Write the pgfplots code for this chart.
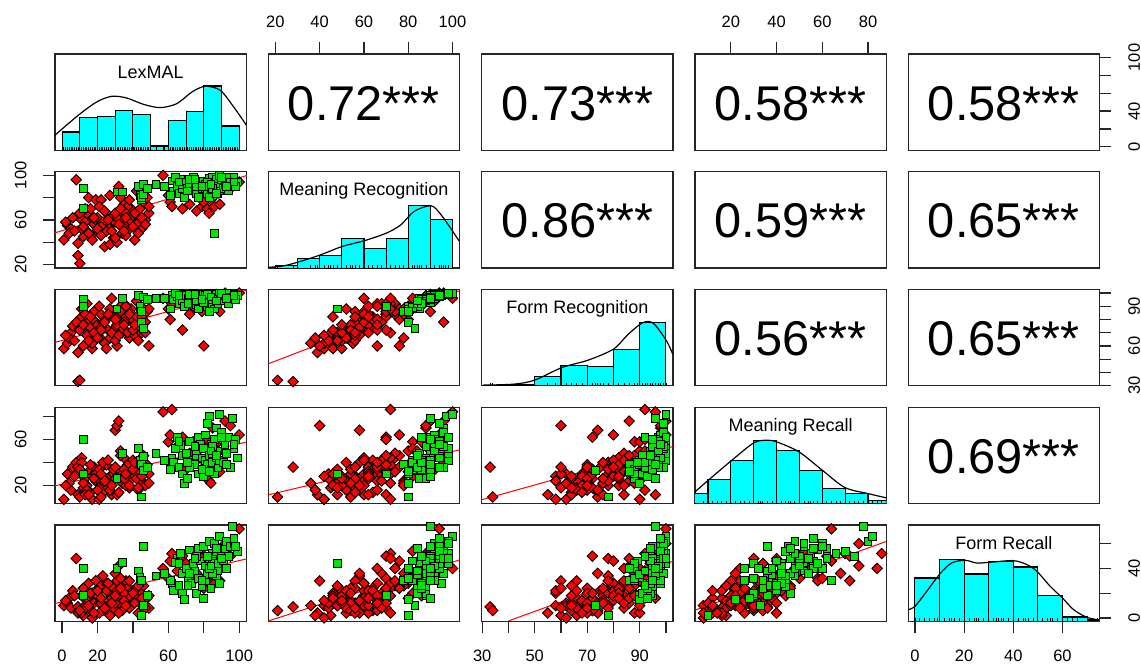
\documentclass[border=0pt]{standalone}
\usepackage{fontspec}
\setmainfont{Liberation Sans}
\usepackage{pgfplots}
\usepackage{pgfplotstable}
\pgfplotsset{compat=1.18}
\definecolor{rfill}{RGB}{255,0,0}
\definecolor{gfill}{RGB}{0,230,0}
\definecolor{hcyan}{RGB}{0,255,255}

\pgfplotstableread{
lex mrec frec mrecall frecall
1 42 58 8 10
3 55 62 30 12
5 52 70 16 8
6 62 75 36 22
8 96 78 40 48
9 39 55 12 4
9 28 33 36 9
10 21 34 10 6
4 48 66 22 16
11 60 82 44 18
12 45 60 18 2
13 58 72 26 10
14 50 68 20 14
15 80 80 32 28
16 64 74 14 6
17 46 58 28 20
18 56 86 36 12
19 78 66 24 30
11 52 88 40 4
14 66 92 16 16
17 42 62 8 0
19 60 78 30 22
13 70 84 12 8
20 62 76 26 18
21 48 70 34 12
22 78 84 20 26
23 56 64 14 6
24 36 62 22 10
25 66 80 38 28
26 54 72 18 14
27 82 88 28 20
28 60 96 12 16
29 44 68 30 8
21 72 90 8 4
23 58 78 40 34
25 50 58 24 22
27 38 66 16 2
29 64 82 34 24
22 54 74 10 12
30 58 74 68 36
31 40 60 72 30
32 90 86 76 42
33 62 84 32 18
34 48 70 22 10
35 74 92 44 26
36 56 78 36 30
37 66 80 28 14
38 52 66 18 8
39 70 88 40 20
30 44 64 26 12
31 62 76 12 22
33 80 90 50 32
34 54 72 30 6
36 46 82 20 18
37 72 70 38 24
38 60 86 24 16
35 68 78 34 20
40 64 80 42 22
41 42 68 28 14
42 86 94 36 18
43 58 74 16 4
44 70 84 32 12
45 52 70 24 20
46 76 88 46 26
47 60 78 20 10
48 80 86 38 16
49 66 60 30 8
42 56 82 26 24
57 100 96 84 40
60 82 88 58 32
61 76 80 64 46
62 72 92 86 52
65 88 96 54 38
68 70 72 62 50
70 92 94 34 44
72 74 84 48 40
74 86 90 58 30
76 68 92 42 36
78 82 96 52 54
79 72 86 30 48
80 76 60 36 24
81 86 94 40 46
82 70 92 60 32
83 66 90 24 40
84 78 88 22 36
85 88 98 70 52
86 72 96 44 28
87 90 99 56 44
88 84 92 50 38
89 74 86 32 30
92 96 100 76 60
95 88 98 72 50
100 94 100 64 72
2 58 68 20 14
7 50 64 28 18
10 66 72 34 6
12 54 76 22 24
15 48 64 12 10
16 70 82 38 20
18 62 70 26 4
20 52 66 16 22
22 46 72 30 16
24 68 78 24 8
26 60 84 42 28
28 50 70 20 12
30 66 80 36 18
32 56 68 14 4
33 70 86 46 24
35 50 76 26 14
36 62 90 30 10
38 78 84 20 30
40 54 72 34 20
41 66 76 40 12
43 48 64 18 26
45 62 82 28 16
47 56 70 36 8
49 72 88 22 18
}\redtab

\pgfplotstableread{
lex mrec frec mrecall frecall
12 88 95 60 40
12 70 90 30 18
31 85 88 26 40
34 85 96 48 45
43 90 98 52 38
44 82 90 42 33
45 78 86 38 30
46 92 97 45 58
45 80 78 10 2
46 83 73 33 10
48 88 95 36 18
53 92 96 48 34
62 95 98 44 28
63 86 95 40 22
65 90 97 62 48
66 84 92 36 26
67 96 100 55 52
68 88 94 30 20
68 92 99 46 36
69 80 90 22 15
64 98 100 52 45
61 82 88 34 30
70 94 98 48 40
71 88 96 26 30
72 92 99 58 55
73 86 93 40 28
74 98 100 42 44
75 90 97 38 38
76 84 91 46 20
77 94 98 62 56
77 80 88 30 32
78 92 96 56 46
79 88 95 44 25
72 96 99 36 36
76 90 94 50 50
80 95 99 52 58
81 88 96 42 42
81 92 98 64 30
82 84 90 38 35
83 97 100 80 62
83 90 95 46 48
84 86 93 34 24
84 94 97 56 40
85 98 100 48 52
85 82 89 40 46
86 48 88 30 44
86 92 98 60 60
87 88 96 44 34
87 96 99 70 54
88 84 92 36 38
88 90 97 50 44
89 100 100 82 66
89 86 94 42 28
82 94 99 74 50
80 90 93 28 16
85 88 95 54 36
83 80 86 32 40
90 96 99 66 52
91 88 94 40 46
92 92 98 56 56
93 98 100 48 62
94 86 92 62 50
95 94 97 36 58
96 90 96 78 74
97 98 99 52 60
99 94 98 44 54
98 90 95 60 58
58 90 96 42 36
66 94 98 58 44
71 86 92 40 26
75 96 99 54 48
79 90 95 34 30
84 92 97 50 42
87 84 94 46 56
90 98 100 62 48
93 90 96 38 40
97 94 98 56 64
}\greentab

\pgfplotsset{
  panel/.style={scale only axis, width=95.65pt, height=48.15pt, anchor=north west,
    axis line style={black!85, line width=0.6pt},
    xtick=\empty, ytick=\empty,
    tick align=outside, major tick length=5.85pt,
    tick style={black!85, line width=0.6pt},
    tick label style={font=\fontsize{8.25}{9}\selectfont, text=black},
    /pgf/number format/assume math mode=true,
    clip=true},
  xlex/.style={xmin=-4,xmax=104}, ylex/.style={ymin=-4,ymax=104},
  xmrec/.style={xmin=16.8,xmax=103.2}, ymrec/.style={ymin=16.8,ymax=103.2},
  xfrec/.style={xmin=29.8,xmax=102.7}, yfrec/.style={ymin=29.8,ymax=102.7},
  xmrl/.style={xmin=4.3,xmax=88}, ymrl/.style={ymin=4.3,ymax=88},
  xfrl/.style={xmin=-2.7,xmax=75.1}, yfrl/.style={ymin=-2.7,ymax=75.1},
  diagy/.style={ymin=0,ymax=96.3},
  redpt/.style={only marks, mark=square*, mark size=1.85pt,
    mark options={rotate=45, fill=rfill, draw=black, line width=0.45pt}},
  greenpt/.style={only marks, mark=square*, mark size=1.95pt,
    mark options={fill=gfill, draw=black, line width=0.45pt}},
  regl/.style={red, line width=0.5pt, no marks},
  hist/.style={ybar interval, fill=hcyan, draw=black, line width=0.55pt},
  dens/.style={black, line width=0.6pt, smooth, no marks},
  rug/.style={ycomb, black, line width=0.4pt, no marks},
  toplab/.style={xtick pos=right, xticklabel pos=right,
    xticklabel style={anchor=center, yshift=10.3pt}},
  botlab/.style={xtick pos=left, xticklabel pos=left,
    xticklabel style={anchor=center, yshift=-11.65pt}},
  leftlab/.style={ytick pos=left, yticklabel pos=left,
    yticklabel style={anchor=center, xshift=-11.3pt, rotate=90}},
  rightlab/.style={ytick pos=right, yticklabel pos=right,
    yticklabel style={anchor=center, xshift=11.4pt, rotate=90}},
}

\newcommand{\scat}[2]{%
  \addplot[redpt] table[x=#1,y=#2]{\redtab};
  \addplot[greenpt] table[x=#1,y=#2]{\greentab};}
\newcommand{\rugs}[1]{%
  \addplot[rug] table[x=#1,y expr=3]{\redtab};
  \addplot[rug] table[x=#1,y expr=3]{\greentab};}
\newcommand{\corr}[1]{\node[inner sep=0pt, anchor=base] at (rel axis cs:0.5,1) [yshift=-33pt] {\fontsize{24.4}{28}\selectfont #1};}
\newcommand{\dlab}[1]{\node[inner sep=0pt, anchor=base] at (rel axis cs:0.5,1) [yshift=-12.1pt] {\fontsize{9}{10}\selectfont #1};}

\begin{document}
\begin{tikzpicture}
\path[use as bounding box] (0,0) rectangle (570.5pt,-332.5pt);

% ---------------- Row 1
\begin{axis}[panel, at={(27.5pt,-27pt)}, xlex, diagy]
\addplot[hist] coordinates {(0,18.3) (10,32.7) (20,34) (30,40) (40,36) (50,4.3) (60,30) (70,38.7) (80,64.3) (90,24.3) (100,0)};
\rugs{lex}
\addplot[dens] coordinates {(-4.1,15) (9.1,35) (19.5,48.3) (28,54) (36.5,52.3) (45.9,46) (55.4,42.7) (64.8,46.7) (73.3,58.3) (80.8,64) (89.3,60) (96.9,43.3) (104.5,24)};
\dlab{LexMAL}
\end{axis}
\begin{axis}[panel, at={(134.15pt,-27pt)}, xmrec, ylex, toplab, xtick={20,40,60,80,100}, xticklabels={20,40,60,80,100}]
\corr{0.72***}
\end{axis}
\begin{axis}[panel, at={(240.85pt,-27pt)}, xfrec, ylex]
\corr{0.73***}
\end{axis}
\begin{axis}[panel, at={(347.5pt,-27pt)}, xmrl, ylex, toplab, xtick={20,40,60,80}, xticklabels={20,40,60,80}]
\corr{0.58***}
\end{axis}
\begin{axis}[panel, at={(454.15pt,-27pt)}, xfrl, ylex, rightlab, ytick={0,20,40,60,80,100}, yticklabels={0,,40,,,100}]
\corr{0.58***}
\end{axis}

% ---------------- Row 2
\begin{axis}[panel, at={(27.5pt,-85.875pt)}, xlex, ymrec, leftlab, ytick={20,40,60,80,100}, yticklabels={20,,60,,100}]
\scat{lex}{mrec}
\addplot[regl] coordinates {(-4,48.4) (104,99.7)};
\end{axis}
\begin{axis}[panel, at={(134.15pt,-85.875pt)}, xmrec, diagy]
\addplot[hist] coordinates {(20,2.3) (30,9.3) (40,12.3) (50,29.3) (60,19.3) (70,29.3) (80,62.3) (90,48.3) (100,0)};
\rugs{mrec}
\addplot[dens] coordinates {(16.7,0.7) (23.9,2.3) (31.4,6.7) (40.5,13.3) (50.3,21.7) (60.1,27.3) (70.2,35) (76.7,43.3) (82.7,56.7) (90.3,62.3) (94.8,53.3) (100.1,36.7) (103.1,26.7)};
\dlab{Meaning Recognition}
\end{axis}
\begin{axis}[panel, at={(240.85pt,-85.875pt)}, xfrec, ymrec]
\corr{0.86***}
\end{axis}
\begin{axis}[panel, at={(347.5pt,-85.875pt)}, xmrl, ymrec]
\corr{0.59***}
\end{axis}
\begin{axis}[panel, at={(454.15pt,-85.875pt)}, xfrl, ymrec]
\corr{0.65***}
\end{axis}

% ---------------- Row 3
\begin{axis}[panel, at={(27.5pt,-144.75pt)}, xlex, yfrec]
\scat{lex}{frec}
\addplot[regl] coordinates {(-4,62.7) (104,102.2)};
\end{axis}
\begin{axis}[panel, at={(134.15pt,-144.75pt)}, xmrec, yfrec]
\scat{mrec}{frec}
\addplot[regl] coordinates {(16.8,46.5) (103.2,101.9)};
\end{axis}
\begin{axis}[panel, at={(240.85pt,-144.75pt)}, xfrec, diagy]
\addplot[hist] coordinates {(30,0.7) (40,1.3) (50,9.3) (60,20.7) (70,19.3) (80,36.3) (90,63.3) (100,0)};
\rugs{frec}
\addplot[dens] coordinates {(30.2,0.7) (42.2,1.7) (50,5.7) (60.4,18.3) (70.4,25.7) (80,36.7) (85.7,51.7) (91.3,63.3) (95.3,62.3) (100.2,45) (102.6,31.7)};
\dlab{Form Recognition}
\end{axis}
\begin{axis}[panel, at={(347.5pt,-144.75pt)}, xmrl, yfrec]
\corr{0.56***}
\end{axis}
\begin{axis}[panel, at={(454.15pt,-144.75pt)}, xfrl, yfrec, rightlab, ytick={30,40,50,60,70,80,90,100}, yticklabels={30,,,60,,,90,}]
\corr{0.65***}
\end{axis}

% ---------------- Row 4
\begin{axis}[panel, at={(27.5pt,-203.625pt)}, xlex, ymrl, leftlab, ytick={20,40,60,80}, yticklabels={20,,60,}]
\scat{lex}{mrecall}
\addplot[regl] coordinates {(-4,19.7) (104,57.7)};
\end{axis}
\begin{axis}[panel, at={(134.15pt,-203.625pt)}, xmrec, ymrl]
\scat{mrec}{mrecall}
\addplot[regl] coordinates {(16.8,11.9) (103.2,51)};
\end{axis}
\begin{axis}[panel, at={(240.85pt,-203.625pt)}, xfrec, ymrl]
\scat{frec}{mrecall}
\addplot[regl] coordinates {(29.8,7.6) (102.7,53.9)};
\end{axis}
\begin{axis}[panel, at={(347.5pt,-203.625pt)}, xmrl, diagy]
\addplot[hist] coordinates {(0,10) (10,24.3) (20,43.3) (30,63.3) (40,53.3) (50,33.3) (60,14.7) (70,10) (80,2.7) (90,0)};
\rugs{mrecall}
\addplot[dens] coordinates {(4.3,11.7) (10.1,23.3) (19.9,42.3) (30,60.7) (35.6,63.3) (40,61.7) (49.8,51.7) (60,33.3) (69.9,16) (80,10) (88,5.7)};
\dlab{Meaning Recall}
\end{axis}
\begin{axis}[panel, at={(454.15pt,-203.625pt)}, xfrl, ymrl]
\corr{0.69***}
\end{axis}

% ---------------- Row 5
\begin{axis}[panel, at={(27.5pt,-262.5pt)}, xlex, yfrl, botlab, xtick={0,20,40,60,80,100}, xticklabels={0,20,,60,,100}]
\scat{lex}{frecall}
\addplot[regl] coordinates {(-4,11.7) (104,47.7)};
\end{axis}
\begin{axis}[panel, at={(134.15pt,-262.5pt)}, xmrec, yfrl]
\scat{mrec}{frecall}
\addplot[regl] coordinates {(16.8,-2.4) (103.2,46.9)};
\end{axis}
\begin{axis}[panel, at={(240.85pt,-262.5pt)}, xfrec, yfrl, botlab, xtick={30,40,50,60,70,80,90,100}, xticklabels={30,,50,,70,,90,}]
\scat{frec}{frecall}
\addplot[regl] coordinates {(40,-2.4) (102.7,45.9)};
\end{axis}
\begin{axis}[panel, at={(347.5pt,-262.5pt)}, xmrl, yfrl]
\scat{mrecall}{frecall}
\addplot[regl] coordinates {(4.3,6.3) (88,61.8)};
\end{axis}
\begin{axis}[panel, at={(454.15pt,-262.5pt)}, xfrl, diagy, botlab, xtick={0,20,40,60}, xticklabels={0,20,40,60}]
\addplot[hist] coordinates {(0,43.3) (10,61.7) (20,47.3) (30,60) (40,54.3) (50,26) (60,4.3) (70,1.3) (80,0)};
\rugs{frecall}
\addplot[dens] coordinates {(-2.7,11.7) (0,15) (4.8,30) (9.9,46.7) (14.9,58.3) (20.4,61) (25.1,58.3) (30.5,59) (40,60.7) (45.5,56.7) (49.6,50) (55,35) (60,23.3) (64.5,11.7) (69.9,4) (75.1,1.3)};
\dlab{Form Recall}
\end{axis}
\begin{axis}[panel, at={(454.15pt,-262.5pt)}, xfrl, yfrl, rightlab, ytick={0,20,40,60}, yticklabels={0,,40,}]
\end{axis}
\end{tikzpicture}
\end{document}
